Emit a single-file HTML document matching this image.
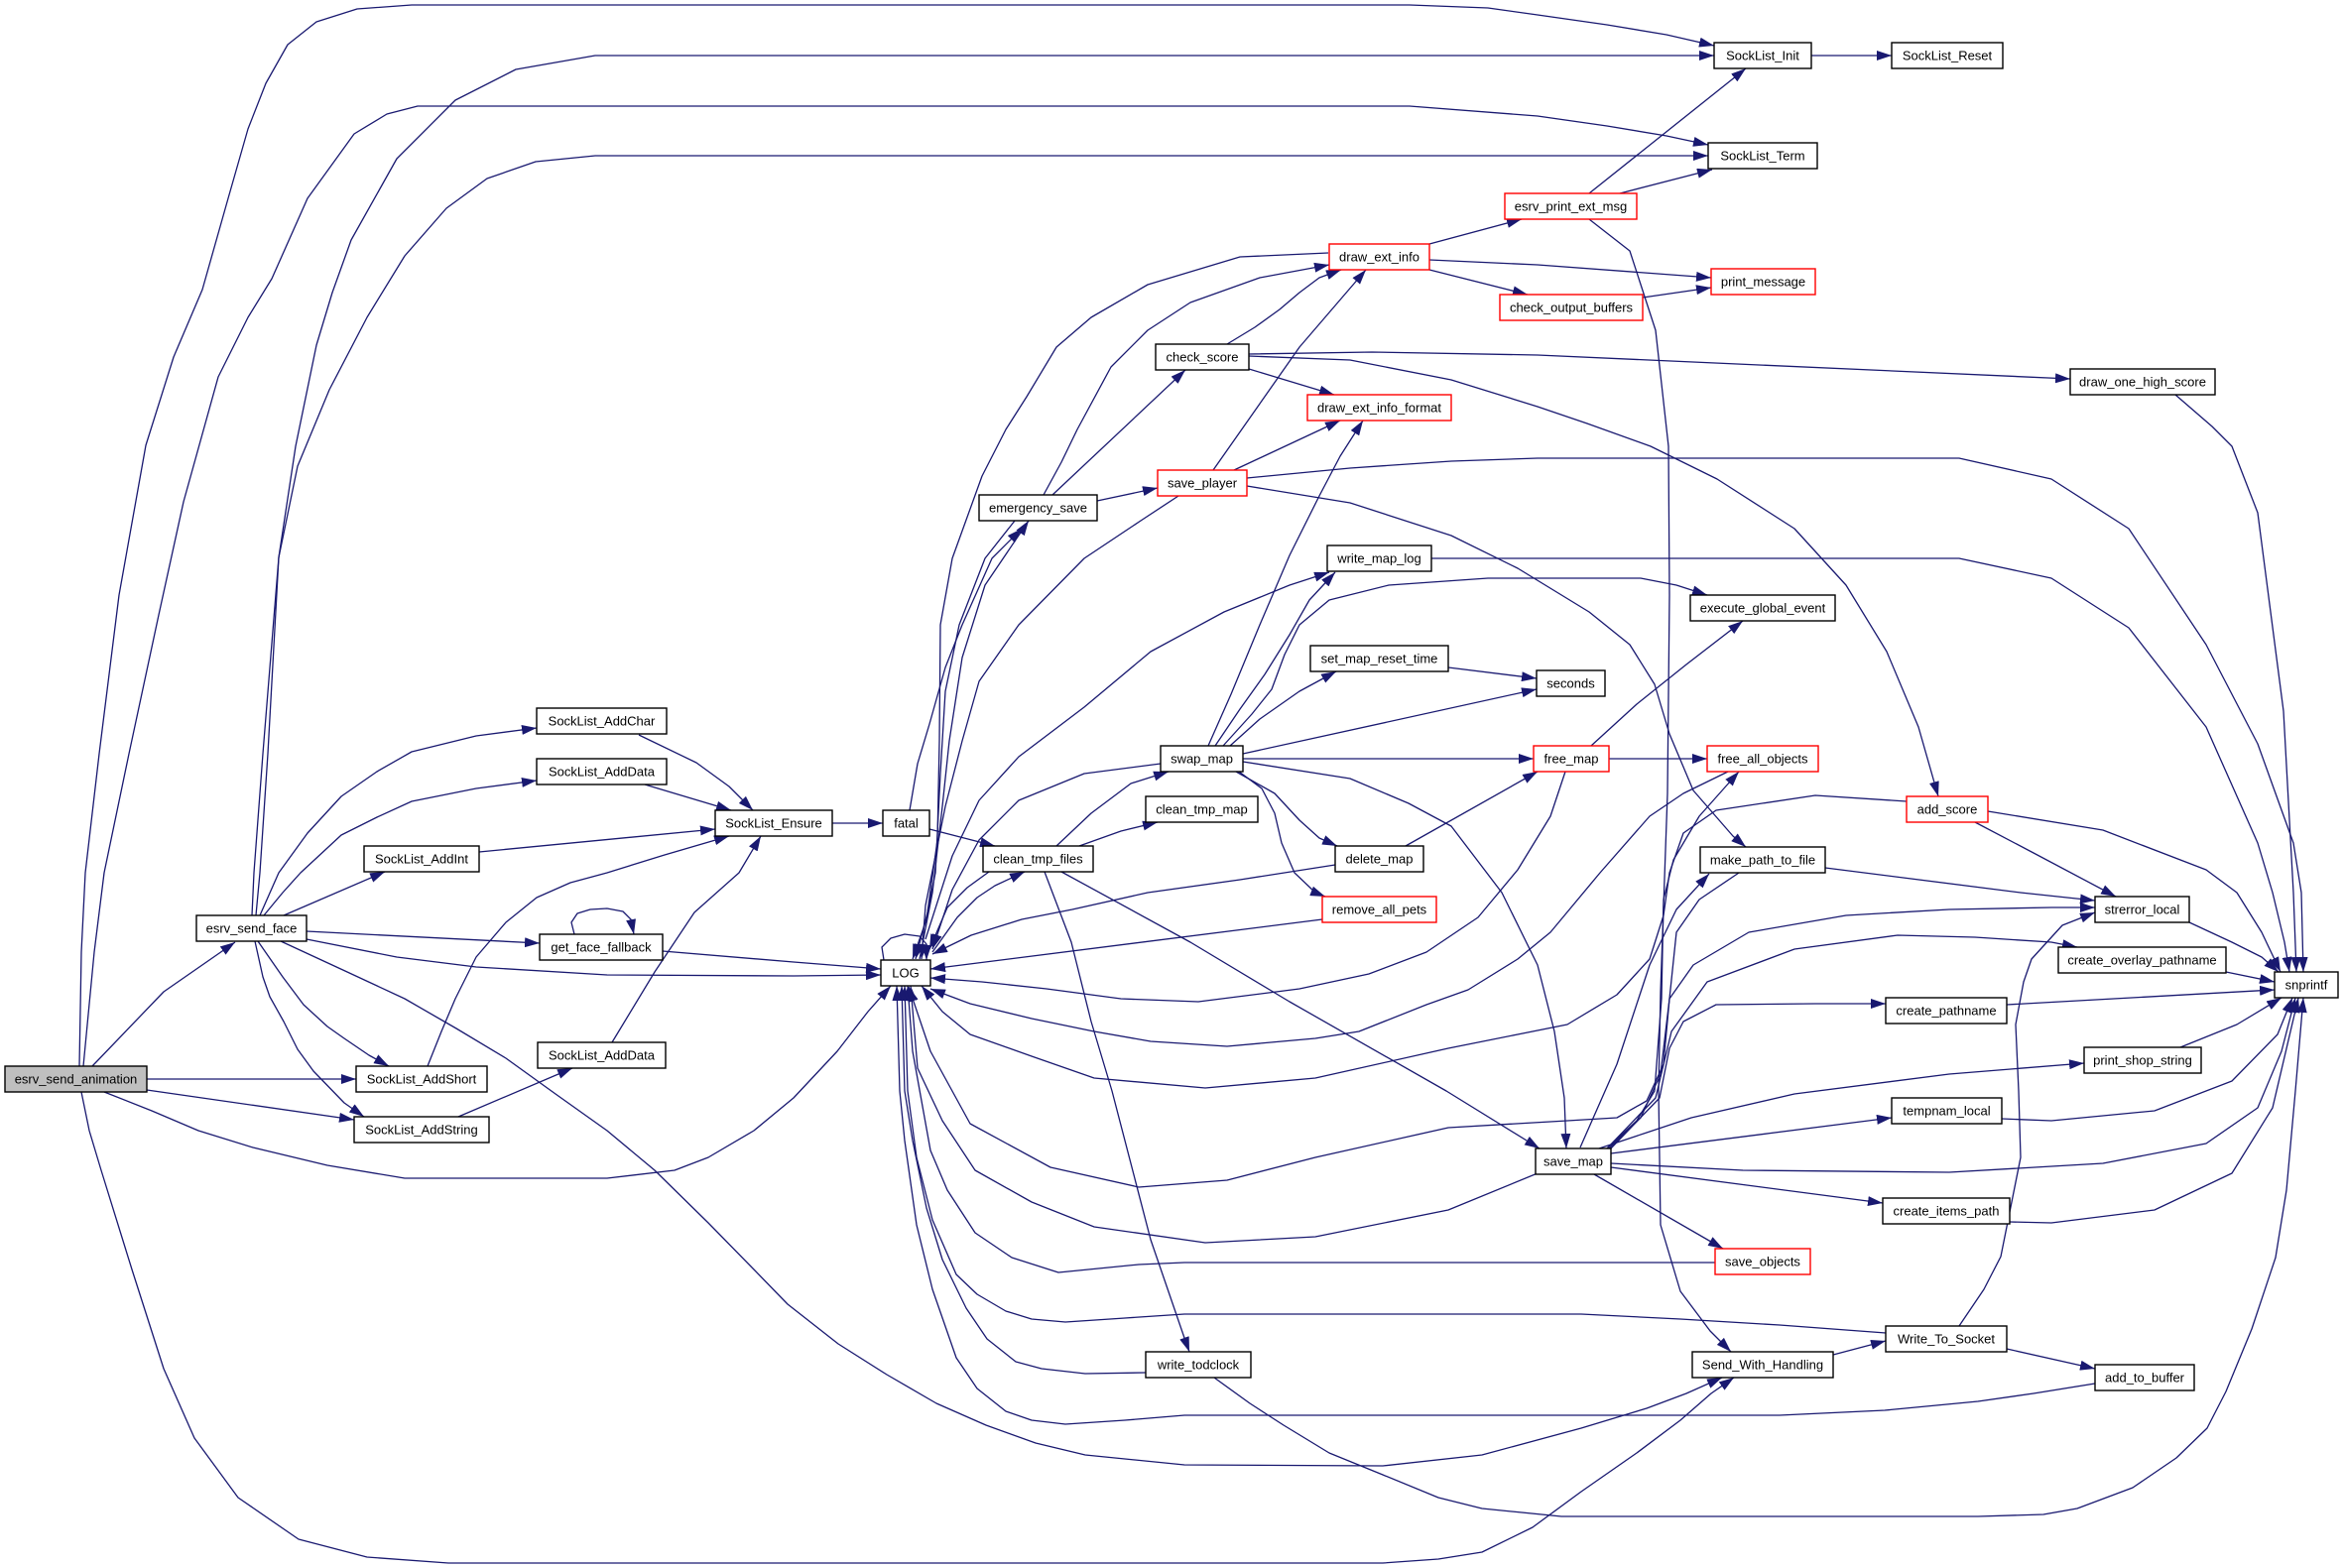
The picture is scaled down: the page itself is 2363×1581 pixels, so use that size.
<!DOCTYPE html>
<html><head><meta charset="utf-8"><style>
html,body{margin:0;padding:0;background:#fff;}
svg{display:block;}
.e{fill:none;stroke:#191970;stroke-width:1.3;stroke-linejoin:round;marker-end:url(#a);}
.n{fill:none;stroke:#191970;stroke-width:1.3;stroke-linejoin:round;}
.b rect{fill:#fff;stroke:#000;stroke-width:1.4;}
.r rect{fill:#fff;stroke:#ff0000;stroke-width:1.4;}
text{font-family:"Liberation Sans",Arial,sans-serif;font-size:13px;fill:#000;text-anchor:middle;}
</style></head><body>
<svg width="2363" height="1581" viewBox="0 0 2363 1581" xmlns="http://www.w3.org/2000/svg">
<defs><marker id="a" viewBox="0 0 15 10" refX="15" refY="5" markerWidth="15" markerHeight="10" markerUnits="userSpaceOnUse" orient="auto" preserveAspectRatio="none"><path d="M0,0L15,5L0,10z" fill="#191970"/></marker></defs>
<rect width="2363" height="1581" fill="#fff"/>
<g>
<!-- top long lines -->
<polyline class="e" points="80,1075 82,960 86,880 100,760 120,600 147,449 175,360 204,292 230,200 250,130 268,84 290,45 319,22 360,9 415,5 1421,5 1500,8 1550,15 1620,25 1680,35 1728,46"/>
<polyline class="e" points="84,1075 95,960 105,880 130,760 160,620 185,506 220,380 250,320 274,281 310,200 357,135 390,115 421,107 1421,107 1550,117 1620,127 1680,137 1722,146"/>
<polyline class="e" points="254,923 256,880 265,760 281,562 298,450 319,348 335,295 354,242 400,160 459,101 520,70 600,56 1728,56"/>
<polyline class="e" points="258,923 262,880 270,760 281,562 300,470 332,393 370,320 408,258 450,210 491,180 540,163 600,157 1722,157"/>
<!-- esrv_send_animation -->
<polyline class="e" points="93,1075 165,1000 237,950"/>
<polyline class="e" points="148,1088 359,1088"/>
<polyline class="e" points="148,1099 357,1129"/>
<polyline class="e" points="105,1101 153,1120 200,1140 255,1157 330,1175 408,1188 612,1188 680,1180 714,1167 760,1140 800,1107 844,1060 875,1020 898,994"/>
<polyline class="e" points="82,1101 90,1140 102,1180 133,1280 165,1380 196,1450 240,1510 301,1552 370,1570 452,1576 1394,1576 1450,1572 1494,1565 1545,1540 1594,1504 1650,1465 1694,1432 1725,1405 1748,1389"/>
<!-- esrv_send_face -->
<polyline class="e" points="262,923 281,880 310,840 344,803 380,778 415,758 480,742 541,734"/>
<polyline class="e" points="266,923 285,900 303,880 344,842 380,824 415,808 480,795 541,787"/>
<polyline class="e" points="286,923 388,879"/>
<polyline class="e" points="309,939 544,951"/>
<polyline class="e" points="309,947 400,965 480,975 612,983 800,984 888,983"/>
<polyline class="e" points="260,949 285,985 306,1013 330,1035 347,1047 372,1064 392,1075"/>
<polyline class="e" points="257,949 265,985 272,1005 286,1030 300,1058 316,1080 347,1112 367,1126"/>
<polyline class="e" points="283,949 350,980 408,1007 460,1037 510,1067 560,1103 612,1140 660,1180 714,1233 760,1280 794,1315 845,1355 894,1386 944,1415 994,1437 1044,1455 1094,1467 1194,1477 1394,1478 1494,1467 1594,1440 1660,1420 1700,1405 1736,1389"/>
<!-- get_face_fallback -->
<polyline class="e" points="579,942 576,930 582,921 595,917 612,916 628,919 636,927 639,942"/>
<polyline class="e" points="668,959 800,970 888,977"/>
<!-- SockList adders -->
<polyline class="e" points="431,1075 445,1040 459,1007 480,965 510,930 541,905 575,890 612,880 670,862 735,843"/>
<polyline class="e" points="462,1126 577,1077"/>
<polyline class="e" points="617,1051 660,980 700,920 745,880 767,843"/>
<polyline class="e" points="644,741 702,769 735,793 759,817"/>
<polyline class="e" points="650,791 737,817"/>
<polyline class="e" points="483,859 721,836"/>
<polyline class="e" points="839,830 890,830"/>
<polyline class="e" points="937,836 1003,853"/>
<!-- LOG self loop -->
<polyline class="e" points="891,968 889,955 898,946 912,942 927,944 934,952 934,968"/>
<!-- LOG area -->
<polyline class="e" points="1339,255 1250,259 1157,287 1100,320 1065,350 1035,400 1014,433 990,480 960,563 948,630 947,747 945,847 935,920 923,967"/>
<polyline class="e" points="917,817 925,770 937,730 953,673 970,630 1000,563 1030,533"/>
<polyline class="e" points="1052,499 1070,466 1086,433 1120,370 1157,333 1200,305 1270,280 1340,267"/>
<polyline class="e" points="1023,525 993,563 967,630 953,697 948,780 943,880 933,930 920,967"/>
<polyline class="e" points="927,967 940,900 950,813 957,747 970,663 993,590 1037,525"/>
<polyline class="e" points="1188,500 1150,525 1093,563 1027,630 987,687 970,747 953,813 933,913 929,967"/>
<polyline class="e" points="940,960 965,925 985,905 1003,893 1033,879"/>
<polyline class="e" points="997,879 975,895 955,915 937,957"/>
<polyline class="e" points="1170,770 1093,780 1027,807 987,847 960,897 940,957"/>
<polyline class="e" points="933,947 960,863 987,807 1027,763 1093,713 1160,657 1234,617 1300,590 1340,577"/>
<!-- swap_map -->
<polyline class="e" points="1218,752 1241,700 1270,630 1300,560 1330,500 1351,460 1374,424"/>
<polyline class="e" points="1225,752 1250,715 1275,680 1300,640 1320,605 1346,577"/>
<polyline class="e" points="1233,752 1262,720 1282,695 1295,660 1310,630 1340,605 1400,590 1500,583 1654,583 1690,590 1721,600"/>
<polyline class="e" points="1240,752 1270,725 1310,697 1347,677"/>
<polyline class="e" points="1253,760 1549,695"/>
<polyline class="e" points="1253,765 1546,765"/>
<polyline class="e" points="1253,768 1361,785 1420,810 1463,833 1514,900 1550,973 1567,1040 1577,1107 1579,1158"/>
<polyline class="e" points="1246,778 1285,800 1310,827 1330,845 1348,853"/>
<polyline class="e" points="1249,778 1272,795 1285,820 1292,850 1305,880 1326,900 1336,904"/>
<polyline class="e" points="1460,673 1549,684"/>
<!-- free_map / delete_map / remove_all_pets -->
<polyline class="e" points="1604,752 1650,710 1700,670 1757,626"/>
<polyline class="e" points="1622,765 1721,765"/>
<polyline class="e" points="1578,778 1563,823 1530,877 1490,925 1438,960 1380,982 1310,997 1208,1010 1130,1007 1055,997 990,990 938,986"/>
<polyline class="e" points="1417,853 1550,778"/>
<polyline class="e" points="1346,872 1250,887 1157,900 1081,917 1030,927 979,943 940,962"/>
<polyline class="e" points="1333,927 938,977"/>
<polyline class="e" points="1742,778 1697,800 1663,823 1613,880 1563,940 1530,967 1480,998 1438,1013 1370,1040 1326,1047 1237,1055 1160,1050 1103,1040 1040,1027 978,1012 938,997"/>
<polyline class="e" points="1922,808 1830,802 1730,817 1697,840 1683,880 1677,923 1663,967 1630,1003 1580,1033 1530,1043 1460,1057 1326,1087 1215,1097 1103,1087 1040,1065 978,1043 950,1020 929,994"/>
<polyline class="e" points="1753,880 1713,907 1690,940 1683,1007 1677,1073 1660,1110 1630,1127 1580,1130 1460,1137 1326,1167 1237,1190 1148,1197 1059,1177 978,1133 938,1060 916,995"/>
<!-- clean_tmp_files -->
<polyline class="e" points="1065,853 1100,820 1140,790 1178,778"/>
<polyline class="e" points="1088,853 1130,838 1167,829"/>
<polyline class="e" points="1070,879 1200,950 1300,1010 1458,1100 1552,1158"/>
<polyline class="e" points="1053,879 1080,950 1100,1030 1121,1100 1160,1250 1194,1349 1199,1363"/>
<!-- back edges to LOG from bottom -->
<polyline class="e" points="1550,1183 1460,1220 1326,1247 1215,1253 1103,1237 1040,1212 983,1180 950,1130 925,1077 918,994"/>
<polyline class="e" points="1729,1273 1194,1273 1148,1275 1067,1283 1020,1268 983,1243 955,1200 938,1160 920,1060 915,994"/>
<polyline class="e" points="1901,1344 1794,1336 1694,1330 1594,1325 1194,1325 1134,1329 1074,1333 1040,1330 1014,1322 985,1305 964,1285 940,1230 924,1167 915,1100 912,994"/>
<polyline class="e" points="1155,1384 1094,1385 1050,1380 1024,1373 995,1350 974,1319 950,1270 934,1218 920,1150 912,1100 909,994"/>
<polyline class="e" points="2112,1395 2050,1405 1994,1413 1900,1422 1794,1427 1194,1427 1134,1432 1074,1436 1040,1432 1014,1423 985,1400 964,1369 940,1300 924,1235 912,1150 907,1100 904,994"/>
<polyline class="e" points="1224,1389 1260,1415 1294,1437 1340,1465 1394,1487 1450,1510 1494,1521 1574,1529 1994,1529 2060,1527 2094,1521 2150,1500 2194,1470 2225,1440 2244,1403 2270,1340 2294,1268 2305,1200 2314,1100 2322,1006"/>
<!-- upper right -->
<polyline class="e" points="1441,246 1534,221"/>
<polyline class="e" points="1441,262 1550,267 1725,280"/>
<polyline class="e" points="1441,272 1540,297"/>
<polyline class="e" points="1656,300 1725,290"/>
<polyline class="e" points="1602,195 1760,69"/>
<polyline class="e" points="1633,195 1726,171"/>
<polyline class="e" points="1826,56 1907,56"/>
<polyline class="e" points="1602,221 1643,253 1669,333 1682,450 1683,600 1681,800 1674,1000 1672,1100 1674,1235 1694,1302 1724,1342 1745,1363"/>
<!-- check_score / save_player / emergency_save -->
<polyline class="e" points="1237,347 1265,330 1290,312 1310,295 1330,280 1352,272"/>
<polyline class="e" points="1259,372 1345,398"/>
<polyline class="e" points="1259,357 1383,355 1550,358 2087,382"/>
<polyline class="e" points="1259,359 1361,363 1463,383 1550,410 1600,427 1664,450 1731,483 1809,533 1861,590 1902,657 1934,733 1954,803"/>
<polyline class="e" points="1223,474 1310,350 1377,272"/>
<polyline class="e" points="1244,474 1351,424"/>
<polyline class="e" points="1257,482 1361,472 1463,465 1550,462 1975,462 2068,483 2146,533 2224,650 2276,750 2312,850 2320,900 2322,980"/>
<polyline class="e" points="1257,490 1361,507 1463,540 1530,573 1602,617 1643,650 1668,690 1683,740 1707,797 1747,843 1760,854"/>
<polyline class="e" points="1106,505 1167,492"/>
<polyline class="e" points="1061,499 1195,373"/>
<polyline class="e" points="1443,563 1550,563 1975,563 2068,583 2146,633 2224,733 2276,850 2291,900 2303,950 2308,980"/>
<polyline class="e" points="2193,398 2230,430 2250,450 2276,517 2302,717 2312,900 2315,980"/>
<!-- make_path / add_score / strerror -->
<polyline class="e" points="1840,875 2037,900 2112,908"/>
<polyline class="e" points="1991,829 2050,860 2133,904"/>
<polyline class="e" points="2004,818 2120,837 2224,877 2255,900 2280,940 2299,980"/>
<polyline class="e" points="2207,930 2250,950 2280,965 2297,980"/>
<polyline class="e" points="2244,980 2293,990"/>
<polyline class="e" points="2023,1013 2293,998"/>
<polyline class="e" points="2198,1056 2255,1033 2300,1006"/>
<polyline class="e" points="2018,1128 2068,1130 2172,1120 2250,1090 2296,1043 2311,1006"/>
<polyline class="e" points="2026,1232 2068,1233 2172,1220 2250,1183 2291,1117 2317,1006"/>
<!-- save_map outgoing -->
<polyline class="e" points="1624,1173 1757,1180 1965,1182 2120,1173 2224,1153 2276,1117 2300,1060 2314,1006"/>
<polyline class="e" points="1622,1158 1654,1127 1674,1083 1683,1007 1707,973 1763,940 1861,923 1965,917 2068,915 2112,915"/>
<polyline class="e" points="1620,1158 1669,1107 1685,1040 1721,990 1809,957 1913,943 1991,945 2068,950 2094,955"/>
<polyline class="e" points="1622,1160 1673,1107 1683,1057 1697,1030 1730,1013 1830,1012 1901,1012"/>
<polyline class="e" points="1612,1158 1705,1127 1809,1103 1965,1083 2101,1072"/>
<polyline class="e" points="1624,1163 1907,1127"/>
<polyline class="e" points="1624,1177 1898,1213"/>
<polyline class="e" points="1607,1184 1737,1259"/>
<polyline class="e" points="1593,1157 1630,1073 1663,973 1690,917 1723,881"/>
<polyline class="e" points="1620,1158 1650,1130 1668,1100 1675,1007 1677,907 1687,867 1713,823 1753,778"/>
<!-- sockets -->
<polyline class="e" points="1975,1337 2000,1300 2017,1267 2037,1167 2035,1100 2032,1033 2040,990 2048,967 2079,933 2112,920"/>
<polyline class="e" points="2023,1360 2112,1380"/>
<polyline class="e" points="1848,1366 1901,1352"/>
</g>
<!-- nodes -->
<g class="b"><rect x="5" y="1075" width="143" height="26" style="fill:#bfbfbf"/><text x="76.5" y="1092.5">esrv_send_animation</text></g>
<g class="b"><rect x="198" y="923" width="111" height="26"/><text x="253.5" y="940.5">esrv_send_face</text></g>
<g class="b"><rect x="541" y="714" width="131" height="26"/><text x="606.5" y="731.5">SockList_AddChar</text></g>
<g class="b"><rect x="541" y="765" width="131" height="26"/><text x="606.5" y="782.5">SockList_AddData</text></g>
<g class="b"><rect x="367" y="853" width="116" height="26"/><text x="425" y="870.5">SockList_AddInt</text></g>
<g class="b"><rect x="544" y="942" width="124" height="26"/><text x="606" y="959.5">get_face_fallback</text></g>
<g class="b"><rect x="359" y="1075" width="132" height="26"/><text x="425" y="1092.5">SockList_AddShort</text></g>
<g class="b"><rect x="357" y="1126" width="136" height="26"/><text x="425" y="1143.5">SockList_AddString</text></g>
<g class="b"><rect x="542" y="1051" width="129" height="26"/><text x="606.5" y="1068.5">SockList_AddData</text></g>
<g class="b"><rect x="721" y="817" width="118" height="26"/><text x="780" y="834.5">SockList_Ensure</text></g>
<g class="b"><rect x="890" y="817" width="47" height="26"/><text x="913.5" y="834.5">fatal</text></g>
<g class="b"><rect x="888" y="968" width="50" height="26"/><text x="913" y="985.5">LOG</text></g>
<g class="b"><rect x="991" y="853" width="111" height="26"/><text x="1046.5" y="870.5">clean_tmp_files</text></g>
<g class="b"><rect x="987" y="499" width="119" height="26"/><text x="1046.5" y="516.5">emergency_save</text></g>
<g class="b"><rect x="1165" y="347" width="94" height="26"/><text x="1212" y="364.5">check_score</text></g>
<g class="r"><rect x="1340" y="246" width="101" height="26"/><text x="1390.5" y="263.5">draw_ext_info</text></g>
<g class="r"><rect x="1318" y="398" width="145" height="26"/><text x="1390.5" y="415.5">draw_ext_info_format</text></g>
<g class="r"><rect x="1167" y="474" width="90" height="26"/><text x="1212" y="491.5">save_player</text></g>
<g class="b"><rect x="1338" y="550" width="105" height="26"/><text x="1390.5" y="567.5">write_map_log</text></g>
<g class="b"><rect x="1321" y="651" width="139" height="26"/><text x="1390.5" y="668.5">set_map_reset_time</text></g>
<g class="b"><rect x="1170" y="752" width="83" height="26"/><text x="1211.5" y="769.5">swap_map</text></g>
<g class="b"><rect x="1155" y="803" width="113" height="26"/><text x="1211.5" y="820.5">clean_tmp_map</text></g>
<g class="b"><rect x="1346" y="853" width="89" height="26"/><text x="1390.5" y="870.5">delete_map</text></g>
<g class="r"><rect x="1333" y="904" width="115" height="26"/><text x="1390.5" y="921.5">remove_all_pets</text></g>
<g class="b"><rect x="1155" y="1363" width="106" height="26"/><text x="1208" y="1380.5">write_todclock</text></g>
<g class="r"><rect x="1517" y="195" width="133" height="26"/><text x="1583.5" y="212.5">esrv_print_ext_msg</text></g>
<g class="r"><rect x="1512" y="297" width="144" height="26"/><text x="1584" y="314.5">check_output_buffers</text></g>
<g class="b"><rect x="1549" y="676" width="69" height="26"/><text x="1583.5" y="693.5">seconds</text></g>
<g class="r"><rect x="1546" y="752" width="76" height="26"/><text x="1584" y="769.5">free_map</text></g>
<g class="b"><rect x="1548" y="1158" width="76" height="26"/><text x="1586" y="1175.5">save_map</text></g>
<g class="b"><rect x="1728" y="43" width="98" height="26"/><text x="1777" y="60.5">SockList_Init</text></g>
<g class="b"><rect x="1907" y="43" width="112" height="26"/><text x="1963" y="60.5">SockList_Reset</text></g>
<g class="b"><rect x="1722" y="144" width="110" height="26"/><text x="1777" y="161.5">SockList_Term</text></g>
<g class="r"><rect x="1725" y="271" width="105" height="26"/><text x="1777.5" y="288.5">print_message</text></g>
<g class="b"><rect x="2087" y="372" width="146" height="26"/><text x="2160" y="389.5">draw_one_high_score</text></g>
<g class="b"><rect x="1704" y="600" width="146" height="26"/><text x="1777" y="617.5">execute_global_event</text></g>
<g class="r"><rect x="1721" y="752" width="112" height="26"/><text x="1777" y="769.5">free_all_objects</text></g>
<g class="r"><rect x="1922" y="803" width="82" height="26"/><text x="1963" y="820.5">add_score</text></g>
<g class="b"><rect x="1714" y="854" width="126" height="26"/><text x="1777" y="871.5">make_path_to_file</text></g>
<g class="b"><rect x="2112" y="904" width="95" height="26"/><text x="2159.5" y="921.5">strerror_local</text></g>
<g class="b"><rect x="2075" y="955" width="169" height="26"/><text x="2159.5" y="972.5">create_overlay_pathname</text></g>
<g class="b"><rect x="2293" y="980" width="64" height="26"/><text x="2325" y="997.5">snprintf</text></g>
<g class="b"><rect x="1901" y="1006" width="122" height="26"/><text x="1962" y="1023.5">create_pathname</text></g>
<g class="b"><rect x="2101" y="1056" width="118" height="26"/><text x="2160" y="1073.5">print_shop_string</text></g>
<g class="b"><rect x="1907" y="1107" width="111" height="26"/><text x="1962.5" y="1124.5">tempnam_local</text></g>
<g class="b"><rect x="1898" y="1208" width="128" height="26"/><text x="1962" y="1225.5">create_items_path</text></g>
<g class="r"><rect x="1729" y="1259" width="96" height="26"/><text x="1777" y="1276.5">save_objects</text></g>
<g class="b"><rect x="1901" y="1337" width="122" height="26"/><text x="1962" y="1354.5">Write_To_Socket</text></g>
<g class="b"><rect x="1706" y="1363" width="142" height="26"/><text x="1777" y="1380.5">Send_With_Handling</text></g>
<g class="b"><rect x="2112" y="1376" width="100" height="26"/><text x="2162" y="1393.5">add_to_buffer</text></g>
</svg>
</body></html>
